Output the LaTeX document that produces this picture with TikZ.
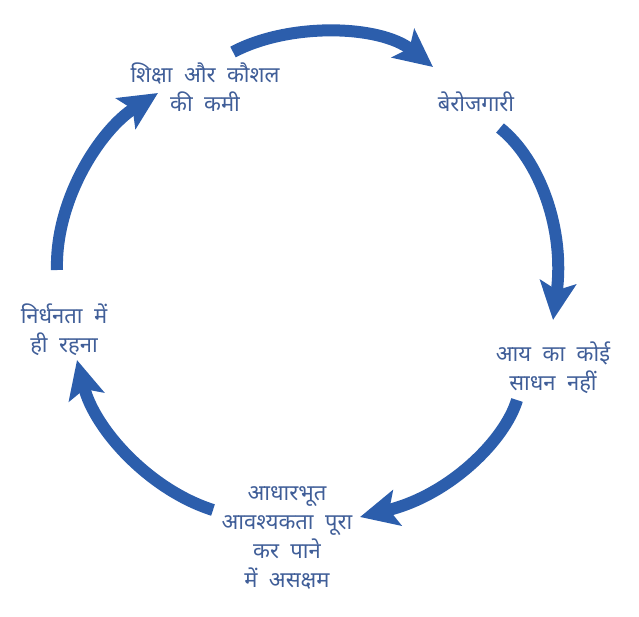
\documentclass[tikz,border=0pt]{standalone}
\usepackage{fontspec}
\newfontfamily\devfont[Script=Devanagari,WordSpace=2]{Noto Sans}
\usetikzlibrary{arrows.meta}
\definecolor{arrblue}{RGB}{44,94,172}
\definecolor{txtblue}{RGB}{64,94,152}
\tikzset{
  lbl/.style={text=txtblue, align=center, inner sep=0pt, font=\devfont\fontsize{22}{29}\selectfont},
  cyc/.style={draw=arrblue, line width=12pt, -{Stealth[length=38pt,width=36pt,inset=8pt]}}
}
\begin{document}
\begin{tikzpicture}[x=1pt,y=-1pt]
\useasboundingbox (0,0) rectangle (639,616);
\node[lbl] (shiksha) at (205,87) {शिक्षा और कौशल\\की कमी};
\node[lbl] (berozgari) at (476,102) {बेरोजगारी};
\node[lbl] (aay) at (553,368) {आय का कोई\\साधन नहीं};
\node[lbl] (aadhar) at (287,538) {आधारभूत\\आवश्यकता पूरा\\कर पाने\\में असक्षम};
\node[lbl] (nirdhan) at (64,330) {निर्धनता में\\ही रहना};
\coordinate (s1) at (233,52);  \coordinate (e1) at (433,67);
\coordinate (s2) at (500,128); \coordinate (e2) at (553,320);
\coordinate (s3) at (517,400); \coordinate (e3) at (360,517);
\coordinate (s4) at (213,510); \coordinate (e4) at (77,360);
\coordinate (s5) at (57,270);  \coordinate (e5) at (158,93);
\draw[cyc] (s1) .. controls (290,22) and (380,25) .. (e1);
\draw[cyc] (s2) .. controls (540,160) and (565,230) .. (e2);
\draw[cyc] (s3) .. controls (505,440) and (450,495) .. (e3);
\draw[cyc] (s4) .. controls (150,490) and (95,430) .. (e4);
\draw[cyc] (s5) .. controls (55,200) and (100,130) .. (e5);
\end{tikzpicture}
\end{document}
